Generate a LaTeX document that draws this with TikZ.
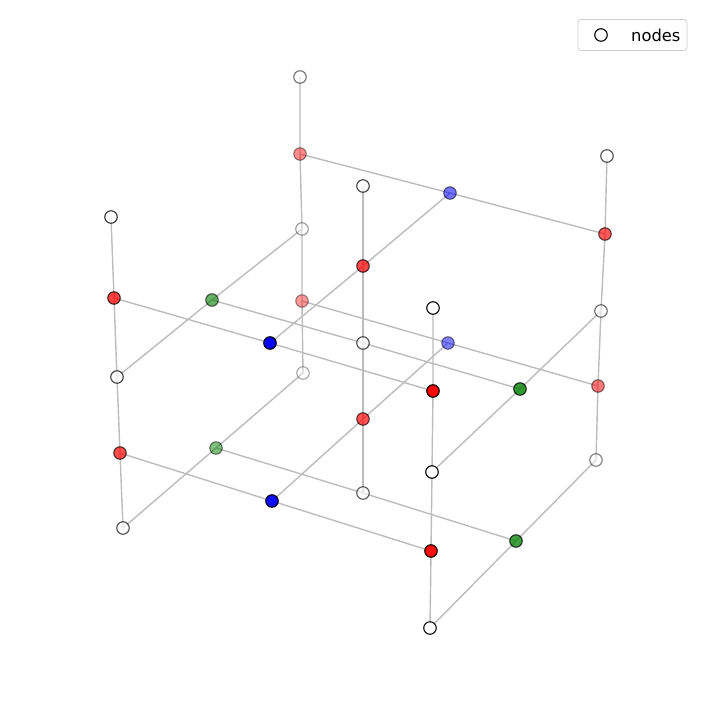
\documentclass[tikz,border=0pt]{standalone}
\usepackage{fontspec}
\setmainfont{DejaVu Sans}
\pgfdeclarelayer{bg}
\pgfsetlayers{bg,main}
\definecolor{edgegray}{RGB}{188,188,188}
\definecolor{mred}{RGB}{255,0,0}
\definecolor{mblue}{RGB}{0,0,255}
\definecolor{mgreen}{RGB}{0,128,0}
\definecolor{legframe}{RGB}{204,204,204}
\tikzset{
  nd/.style={circle, draw=black, line width=1.1pt, minimum size=12.5pt, inner sep=0pt},
  wn/.style={nd, fill=white},
  rn/.style={nd, fill=mred},
  bn/.style={nd, fill=mblue},
  gn/.style={nd, fill=mgreen},
  lnk/.style={draw=edgegray, line width=1.4pt}
}
\begin{document}
\begin{tikzpicture}[x=1pt,y=-1pt]
\useasboundingbox (0,0) rectangle (707,707);
% column a
\node[wn,opacity=0.55] (a1) at (300,77) {};
\node[rn,opacity=0.45] (a2) at (300,154) {};
\node[wn,opacity=0.4] (a3) at (302,229) {};
\node[rn,opacity=0.4] (a4) at (302,301) {};
\node[wn,opacity=0.35] (a5) at (303,373) {};
% column b
\node[wn,opacity=0.8] (b1) at (111,217) {};
\node[rn,opacity=0.75] (b2) at (114,298) {};
\node[wn,opacity=0.75] (b3) at (117,377) {};
\node[rn,opacity=0.7] (b4) at (120,453) {};
\node[wn,opacity=0.7] (b5) at (123,528) {};
% column c
\node[wn,opacity=0.75] (c1) at (363,186) {};
\node[rn,opacity=0.72] (c2) at (363,266) {};
\node[wn,opacity=0.7] (c3) at (363,343) {};
\node[rn,opacity=0.68] (c4) at (363,419) {};
\node[wn,opacity=0.65] (c5) at (363,493) {};
% column d
\node[wn] (d1) at (433,308) {};
\node[rn] (d2) at (433,391) {};
\node[wn] (d3) at (432,472) {};
\node[rn,opacity=0.95] (d4) at (431,551) {};
\node[wn,opacity=0.95] (d5) at (430,628) {};
% column e
\node[wn,opacity=0.7] (e1) at (607,156) {};
\node[rn,opacity=0.65] (e2) at (605,234) {};
\node[wn,opacity=0.58] (e3) at (601,311) {};
\node[rn,opacity=0.52] (e4) at (598,386) {};
\node[wn,opacity=0.5] (e5) at (596,460) {};
% blue
\node[bn,opacity=0.55] (f1) at (450,193) {};
\node[bn,opacity=0.5] (f2) at (448,343) {};
\node[bn] (f3) at (270,343) {};
\node[bn,opacity=0.95] (f4) at (272,501) {};
% green
\node[gn,opacity=0.6] (g1) at (212,300) {};
\node[gn,opacity=0.5] (g2) at (216,448) {};
\node[gn,opacity=0.8] (g3) at (520,389) {};
\node[gn,opacity=0.75] (g4) at (516,541) {};
\begin{pgfonlayer}{bg}
\draw[lnk] (a1.center) -- (a2.center) -- (a3.center) -- (a4.center) -- (a5.center);
\draw[lnk] (b1.center) -- (b2.center) -- (b3.center) -- (b4.center) -- (b5.center);
\draw[lnk] (c1.center) -- (c2.center) -- (c3.center) -- (c4.center) -- (c5.center);
\draw[lnk] (d1.center) -- (d2.center) -- (d3.center) -- (d4.center) -- (d5.center);
\draw[lnk] (e1.center) -- (e2.center) -- (e3.center) -- (e4.center) -- (e5.center);
\draw[lnk] (a2.center) -- (f1.center) -- (e2.center);
\draw[lnk] (b2.center) -- (f3.center) -- (d2.center);
\draw[lnk] (g1.center) -- (c3.center) -- (g3.center);
\draw[lnk] (a4.center) -- (f2.center) -- (e4.center);
\draw[lnk] (b4.center) -- (f4.center) -- (d4.center);
\draw[lnk] (g2.center) -- (c5.center) -- (g4.center);
\draw[lnk] (f1.center) -- (c2.center) -- (f3.center);
\draw[lnk] (a3.center) -- (g1.center) -- (b3.center);
\draw[lnk] (e3.center) -- (g3.center) -- (d3.center);
\draw[lnk] (a5.center) -- (g2.center) -- (b5.center);
\draw[lnk] (f2.center) -- (c4.center) -- (f4.center);
\draw[lnk] (e5.center) -- (g4.center) -- (d5.center);
\end{pgfonlayer}
% legend
\node[draw=legframe, line width=0.8pt, rounded corners=3pt, minimum width=109pt, minimum height=31pt, inner sep=0pt] (leg) at (632.5,35) {};
\node[wn] (legm) at (601,35) {};
\node[anchor=west, font=\fontsize{16.3}{19}\selectfont, inner sep=0pt] (legt) at (631,35) {nodes};
\end{tikzpicture}
\end{document}
